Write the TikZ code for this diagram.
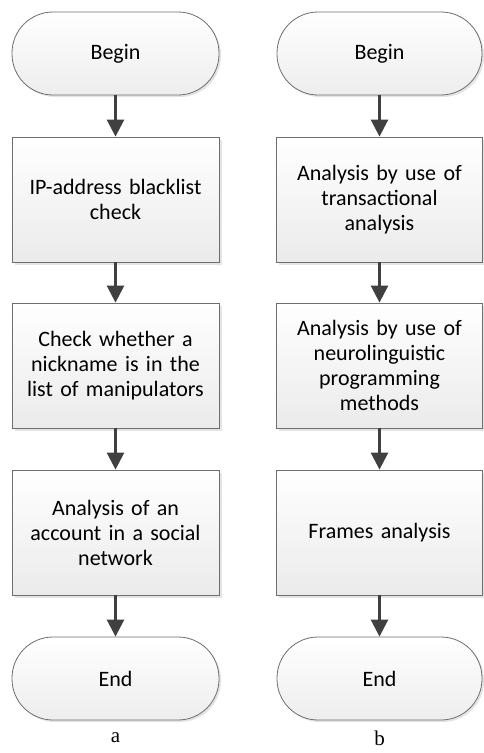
\documentclass[tikz,border=0pt]{standalone}
\usepackage{fontspec}
\setmainfont{Carlito}
\newfontfamily\capfont{Liberation Serif}
\usetikzlibrary{arrows.meta,shadows,positioning}

\definecolor{edgegray}{HTML}{6E6E6E}
\definecolor{arrowgray}{HTML}{404040}

\begin{document}
\begin{tikzpicture}[x=1pt,y=-1pt,
  every node/.style={font=\fontsize{22}{25}\selectfont},
  term/.style={draw=edgegray, line width=0.8pt, rounded corners=41pt,
    top color=white, bottom color=gray!14,
    drop shadow={shadow xshift=2pt, shadow yshift=-2pt, fill=gray!35, opacity=0.6},
    minimum width=207pt, minimum height=83pt},
  stepbox/.style={draw=edgegray, line width=0.8pt,
    top color=white, bottom color=gray!16,
    drop shadow={shadow xshift=2.5pt, shadow yshift=-2.5pt, fill=gray!35, opacity=0.6},
    minimum width=207pt, minimum height=125pt, align=center, text width=200pt},
  flow/.style={draw=arrowgray, line width=2.6pt, -{Triangle[length=17pt,width=17pt]}}]

\useasboundingbox (0,0) rectangle (483,753);

% a
\node[term]    (beginA) at (115.5,53.5) {Begin};
\node[stepbox] (ip)     at (115.5,199.5) {IP-address blacklist\\check};
\node[stepbox] (nick)   at (115.5,365.5) {Check whether a\\nickname is in the\\list of manipulators};
\node[stepbox] (acc)    at (115.5,532.5) {Analysis of an\\account in a social\\network};
\node[term]    (endA)   at (115.5,678.5) {End};

\draw[flow] (beginA) -- (ip);
\draw[flow] (ip) -- (nick);
\draw[flow] (nick) -- (acc);
\draw[flow] (acc) -- (endA);

\node[font=\capfont\fontsize{21}{22}\selectfont] (capA) at (115.5,738) {a};

% b
\node[term, minimum width=205pt]    (beginB) at (379.5,53.5) {Begin};
\node[stepbox, minimum width=205pt] (ta)     at (379.5,199.5) {Analysis by use of\\transactional\\analysis};
\node[stepbox, minimum width=205pt] (nlp)    at (379.5,365.5) {Analysis by use of\\neurolinguistic\\programming\\methods};
\node[stepbox, minimum width=205pt] (frames) at (379.5,532.5) {Frames analysis};
\node[term, minimum width=205pt]    (endB)   at (379.5,678.5) {End};

\draw[flow] (beginB) -- (ta);
\draw[flow] (ta) -- (nlp);
\draw[flow] (nlp) -- (frames);
\draw[flow] (frames) -- (endB);

\node[font=\capfont\fontsize{21}{22}\selectfont] (capB) at (379.5,738) {b};

\end{tikzpicture}
\end{document}
